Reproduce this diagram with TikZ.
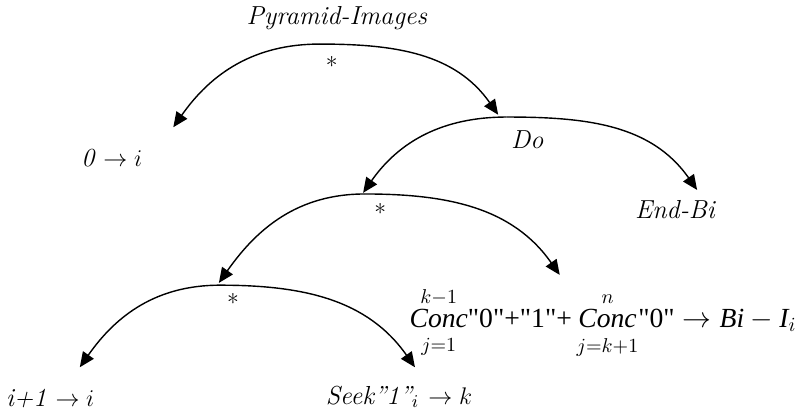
\documentclass[tikz,border=0pt]{standalone}
\usepackage{fontspec}
\newfontfamily\timesf{Liberation Serif}
\usetikzlibrary{arrows.meta}
\newcommand{\concop}{\mathop{\hbox{\timesf\itshape Conc}\rule[-4pt]{0pt}{14pt}}}
\tikzset{
  arcline/.style={line width=0.7pt, -{Triangle[length=7.5pt,width=6.5pt]}},
  lbl/.style={font=\fontsize{13}{15}\selectfont\itshape, inner sep=1pt},
  star/.style={font=\large, inner sep=0pt}
}
\begin{document}
\begin{tikzpicture}
    \useasboundingbox (0,0) rectangle (14,7.193);
    % apex of each arc and the ends of its arrows
    \coordinate (topA) at (5.61,6.42);
    \coordinate (tipAl) at (3.04,4.96);
    \coordinate (tipAr) at (8.74,5.18);
    \coordinate (topB) at (8.89,5.14);
    \coordinate (tipBl) at (6.37,3.81);
    \coordinate (tipBr) at (12.23,3.86);
    \coordinate (topC) at (6.40,3.79);
    \coordinate (tipCl) at (3.84,2.23);
    \coordinate (tipCr) at (9.82,2.37);
    \coordinate (topD) at (3.86,2.19);
    \coordinate (tipDl) at (1.40,0.75);
    \coordinate (tipDr) at (7.28,0.75);
    % labels
    \node[lbl] (pyr) at (5.91,6.88) {Pyramid-Images};
    \node[star] (starA) at (5.82,6.05) {*};
    \node[lbl] (init) at (1.96,4.42) {0 $\rightarrow i$};
    \node[lbl] (do) at (9.25,4.74) {Do};
    \node[lbl] (endbi) at (11.84,3.51) {End-Bi};
    \node[star] (starC) at (6.67,3.47) {*};
    \node[star] (starD) at (4.09,1.89) {*};
    \node[lbl] (incr) at (0.88,0.21) {i+1 $\rightarrow i$};
    \node[lbl] (seek) at (7.0,0.23) {Seek”1”$_i$ $\rightarrow k$};
    \node[inner sep=0pt, font=\fontsize{13.8}{16}\selectfont] (conc) at (10.58,1.53)
      {$\concop\limits_{j=1}^{k-1}\!\hbox{\timesf"0"+"1"+}\concop\limits_{j=k+1}^{n}\!\hbox{\timesf"0"}\rightarrow \hbox{\timesf\itshape Bi}-\hbox{\timesf\itshape I}_i$};
    % arcs
    \draw[arcline] (topA) to[out=180, in=55] (tipAl);
    \draw[arcline] (topA) to[out=0, in=125] (tipAr);
    \draw[arcline] (topB) to[out=180, in=55] (tipBl);
    \draw[arcline] (topB) to[out=0, in=125] (tipBr);
    \draw[arcline] (topC) to[out=180, in=55] (tipCl);
    \draw[arcline] (topC) to[out=0, in=125] (tipCr);
    \draw[arcline] (topD) to[out=180, in=55] (tipDl);
    \draw[arcline] (topD) to[out=0, in=125] (tipDr);
\end{tikzpicture}
\end{document}
